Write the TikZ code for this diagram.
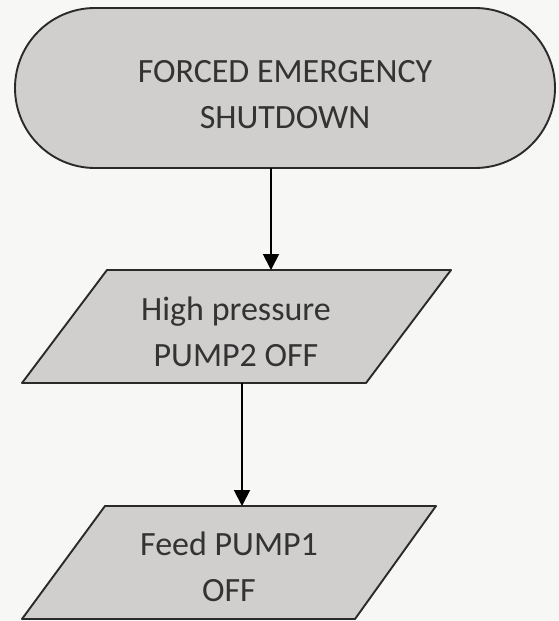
\documentclass[tikz,border=0pt]{standalone}
\usepackage{fontspec}
\setmainfont{Carlito}
\usetikzlibrary{arrows.meta}
\definecolor{bg}{HTML}{F7F8F5}
\definecolor{boxfill}{HTML}{D0CFCE}
\definecolor{edge}{HTML}{2A2A2A}
\begin{document}
\begin{tikzpicture}[x=1pt,y=-1pt,
  shapeline/.style={draw=edge,line width=1.9pt,fill=boxfill,line join=round},
  txt/.style={align=center,font=\fontsize{34}{46}\selectfont,text=black!80,inner sep=0pt},
  flow/.style={draw=black,line width=1.9pt,-{Triangle[length=16pt,width=16pt]}}]
% canvas
\fill[bg] (0,0) rectangle (559,621);
\useasboundingbox (0,0) rectangle (559,621);

% terminal: start
\draw[shapeline,rounded corners=80pt] (15,8) rectangle (555,168);
\node[txt] (start) at (285,95) {FORCED EMERGENCY\\SHUTDOWN};
\coordinate (startout) at (271,168);

% input/output: pump 2
\draw[shapeline] (107,270) -- (451,270) -- (366,383) -- (22,383) -- cycle;
\node[txt] (pumptwo) at (236,332) {High pressure\\PUMP2 OFF};
\coordinate (pumptwoin) at (271,270);
\coordinate (pumptwoout) at (242,383);

% input/output: pump 1
\draw[shapeline] (105,506) -- (436,506) -- (355,619) -- (22,619) -- cycle;
\node[txt] (pumpone) at (229,567) {Feed PUMP1\\OFF};
\coordinate (pumponein) at (242,506);

% flow
\draw[flow] (startout) -- (pumptwoin);
\draw[flow] (pumptwoout) -- (pumponein);
\end{tikzpicture}
\end{document}
